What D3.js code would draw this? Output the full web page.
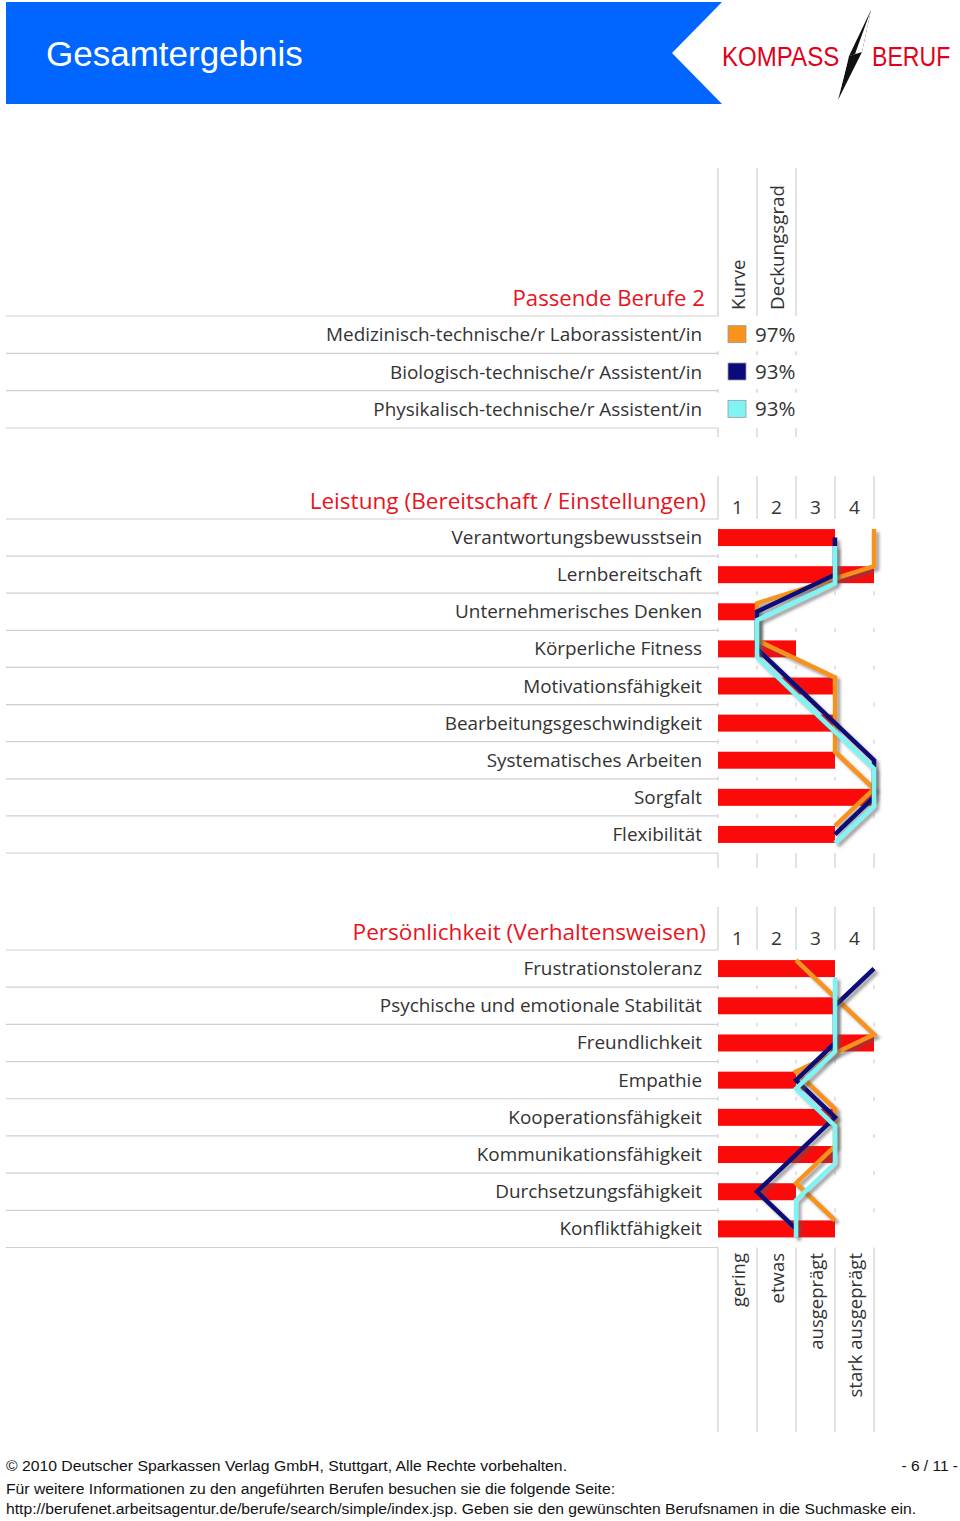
<!DOCTYPE html>
<html><head><meta charset="utf-8">
<script src="https://cdn.jsdelivr.net/npm/d3@7/dist/d3.min.js"></script>
<style>
html,body{margin:0;padding:0;background:#fff;}
svg{display:block;}
</style></head>
<body>
<script>
// ---------- DATA ----------
const pageTitle = "Gesamtergebnis";
const logoLeft = "KOMPASS";
const logoRight = "BERUF";

const legendTitle = "Passende Berufe 2";
const legendHeaders = ["Kurve", "Deckungsgrad"];
const jobs = [
  "Medizinisch-technische/r Laborassistent/in",
  "Biologisch-technische/r Assistent/in",
  "Physikalisch-technische/r Assistent/in"
];
const matchPercent = [97, 93, 93];

const levelTicks = ["1", "2", "3", "4"];
const levelLabels = ["gering", "etwas", "ausgeprägt", "stark ausgeprägt"];

const leistungTitle = "Leistung (Bereitschaft / Einstellungen)";
const leistungItems = [
  "Verantwortungsbewusstsein", "Lernbereitschaft", "Unternehmerisches Denken",
  "Körperliche Fitness", "Motivationsfähigkeit", "Bearbeitungsgeschwindigkeit",
  "Systematisches Arbeiten", "Sorgfalt", "Flexibilität"
];
const leistungBars   = [3, 4, 1, 2, 3, 3, 3, 4, 3];
const leistungJob1   = [4, 4, 1, 1, 3, 3, 3, 4, 3];
const leistungJob2   = [3, 3, 1, 1, 2, 3, 4, 4, 3];
const leistungJob3   = [3, 3, 1, 1, 2, 3, 4, 4, 3];

const persTitle = "Persönlichkeit (Verhaltensweisen)";
const persItems = [
  "Frustrationstoleranz", "Psychische und emotionale Stabilität", "Freundlichkeit",
  "Empathie", "Kooperationsfähigkeit", "Kommunikationsfähigkeit",
  "Durchsetzungsfähigkeit", "Konfliktfähigkeit"
];
const persBars = [3, 3, 4, 2, 3, 3, 2, 3];
const persJob1 = [2, 3, 4, 2, 3, 3, 2, 3];
const persJob2 = [4, 3, 3, 2, 3, 2, 1, 2];
const persJob3 = [3, 3, 3, 2, 3, 3, 2, 2];

const footer1 = "© 2010 Deutscher Sparkassen Verlag GmbH, Stuttgart, Alle Rechte vorbehalten.";
const footerPage = "- 6 / 11 -";
const footer2 = "Für weitere Informationen zu den angeführten Berufen besuchen sie die folgende Seite:";
const footer3 = "http://berufenet.arbeitsagentur.de/berufe/search/simple/index.jsp. Geben sie den gewünschten Berufsnamen in die Suchmaske ein.";

// ---------- STYLE ----------
const jobColors = ["#f7931e", "#0a0a7a", "#80f4f4"];
const jobOffsets = [-8.5, 0, 8.5];
const RED = "#e8141e";
const BAR = "#fb0a0a";
const GRID = "#cfcfcf";
const TXT = "#333";
const LABEL_FONT = "'Open Sans', 'Noto Sans', sans-serif";
const LABEL_SIZE = 18.9;
const TITLE_SIZE = 22.6;

const W = 960, H = 1521;
const svg = d3.select("body").append("svg").attr("width", W).attr("height", H);

const defs = svg.append("defs");
const f = defs.append("filter").attr("id", "shadow").attr("x", "-20%").attr("y", "-20%").attr("width", "140%").attr("height", "140%");
f.append("feDropShadow").attr("dx", 3).attr("dy", 3).attr("stdDeviation", 1.4)
  .attr("flood-color", "#555").attr("flood-opacity", 0.55);

// ---------- HEADER ----------
svg.append("path")
  .attr("d", "M6,2 L722,2 L672,53 L722,104 L6,104 Z")
  .attr("fill", "#0066ff");
svg.append("text").attr("x", 46).attr("y", 66)
  .attr("font-family", "'Liberation Sans', Arial, sans-serif").attr("font-size", 35)
  .attr("fill", "#fff").text(pageTitle);

svg.append("text").attr("transform", "translate(722,66) scale(0.86,1)")
  .attr("font-family", "'Liberation Sans', Arial, sans-serif").attr("font-size", 28)
  .attr("fill", "#e2001a").text(logoLeft);
svg.append("text").attr("transform", "translate(872,66) scale(0.84,1)")
  .attr("font-family", "'Liberation Sans', Arial, sans-serif").attr("font-size", 27.5)
  .attr("fill", "#e2001a").text(logoRight);
// compass needle
svg.append("path").attr("d", "M871,10 L862,52 L849,56 Z").attr("fill", "#111");
svg.append("path").attr("d", "M838,100 L849,56 L862,52 Z").attr("fill", "#111");
svg.append("path").attr("d", "M871,10 L862,52 L855,54 Z").attr("fill", "#fff");
svg.append("path").attr("d", "M838,100 L849,56 L844,72 Z").attr("fill", "#fff");

// ---------- SCALES ----------
const x = d3.scaleLinear().domain([0, 4]).range([718, 874]);
const gridXs = [0, 1, 2, 3, 4].map(v => x(v));

function hLine(g, y, x1, x2) {
  g.append("line").attr("x1", x1).attr("x2", x2).attr("y1", y).attr("y2", y)
    .attr("stroke", GRID).attr("stroke-width", 1.2);
}
function vLine(g, xx, y1, y2) {
  g.append("line").attr("x1", xx).attr("x2", xx).attr("y1", y1).attr("y2", y2)
    .attr("stroke", GRID).attr("stroke-width", 1.2);
}

// ---------- LEGEND SECTION ----------
(function () {
  const g = svg.append("g");
  const y = d3.scaleBand().domain(jobs).range([316, 428]);
  const cols = [0, 1, 2].map(v => x(v));
  cols.forEach(cx => vLine(g, cx, 168, 316));
  cols.forEach(cx => vLine(g, cx, 428, 437));
  jobs.forEach((j, i) => {
    hLine(g, y(j) + y.bandwidth(), 6, 718);
    if (i < jobs.length - 1) cols.forEach(cx => vLine(g, cx, y(j) + y.bandwidth() - 2, y(j) + y.bandwidth() + 2));
  });
  hLine(g, 316, 6, 718);
  g.append("text").attr("x", 705).attr("y", 306).attr("text-anchor", "end")
    .attr("font-family", LABEL_FONT).attr("font-size", 22.2).attr("fill", RED).text(legendTitle);
  legendHeaders.forEach((h, i) => {
    const cx = (cols[i] + cols[i + 1]) / 2;
    g.append("text").attr("transform", `translate(${cx + 7},310) rotate(-90)`)
      .attr("font-family", LABEL_FONT).attr("font-size", 18.8).attr("fill", TXT).text(h);
  });
  jobs.forEach((j, i) => {
    const cy = y(j) + y.bandwidth() / 2;
    g.append("text").attr("x", 702).attr("y", cy + 6.5).attr("text-anchor", "end")
      .attr("font-family", LABEL_FONT).attr("font-size", LABEL_SIZE).attr("fill", TXT).text(j);
    g.append("rect").attr("x", 728).attr("y", cy - 9).attr("width", 18).attr("height", 17)
      .attr("fill", jobColors[i]).attr("stroke", "#999").attr("stroke-width", 0.8);
    g.append("text").attr("x", 755).attr("y", cy + 7).attr("font-family", LABEL_FONT)
      .attr("font-size", 20.5).attr("fill", TXT).text(matchPercent[i] + "%");
  });
})();

// ---------- BAR SECTIONS ----------
function section(opt) {
  const g = svg.append("g");
  const y = d3.scaleBand().domain(opt.items).range([opt.top, opt.bottom]);
  const bh = 17;
  gridXs.forEach(gx => vLine(g, gx, opt.headerTop, opt.top));
  hLine(g, opt.top, 6, 718);
  opt.items.forEach((it, i) => {
    const yb = y(it) + y.bandwidth();
    hLine(g, yb, 6, 718);
    if (i < opt.items.length - 1) gridXs.forEach(gx => vLine(g, gx, yb - 2, yb + 2));
  });
  gridXs.forEach(gx => vLine(g, gx, opt.bottom, opt.tailEnd));

  g.append("text").attr("x", 706).attr("y", opt.titleY).attr("text-anchor", "end")
    .attr("font-family", LABEL_FONT).attr("font-size", TITLE_SIZE).attr("fill", RED).text(opt.title);
  levelTicks.forEach((t, i) => {
    g.append("text").attr("x", (x(i) + x(i + 1)) / 2).attr("y", opt.top - 5)
      .attr("text-anchor", "middle").attr("font-family", LABEL_FONT)
      .attr("font-size", 19).attr("fill", TXT).text(t);
  });
  opt.items.forEach(it => {
    g.append("text").attr("x", 702).attr("y", y(it) + y.bandwidth() / 2 + 6.5)
      .attr("text-anchor", "end").attr("font-family", LABEL_FONT)
      .attr("font-size", LABEL_SIZE).attr("fill", TXT).text(it);
  });
  g.selectAll("rect.bar").data(opt.bars).join("rect").attr("class", "bar")
    .attr("x", x(0)).attr("y", (d, i) => y(opt.items[i]) + (y.bandwidth() - bh) / 2)
    .attr("width", d => x(d) - x(0)).attr("height", bh).attr("fill", BAR);

  opt.series.forEach((s, k) => {
    const line = d3.line()
      .x(d => x(d))
      .y((d, i) => y(opt.items[i]) + y.bandwidth() / 2 + jobOffsets[k]);
    g.append("path").attr("d", line(s)).attr("fill", "none")
      .attr("stroke", jobColors[k]).attr("stroke-width", 4.5)
      .attr("stroke-linejoin", "miter").attr("filter", "url(#shadow)");
  });
  return g;
}

section({
  title: leistungTitle, titleY: 509, headerTop: 476, top: 519, bottom: 853, tailEnd: 868,
  items: leistungItems, bars: leistungBars, series: [leistungJob1, leistungJob2, leistungJob3]
});
const gp = section({
  title: persTitle, titleY: 940, headerTop: 907, top: 950, bottom: 1247.5, tailEnd: 1432,
  items: persItems, bars: persBars, series: [persJob1, persJob2, persJob3]
});
levelLabels.forEach((t, i) => {
  gp.append("text").attr("transform", `translate(${(x(i) + x(i + 1)) / 2 + 7},1253) rotate(-90)`)
    .attr("text-anchor", "end").attr("font-family", LABEL_FONT)
    .attr("font-size", 18.5).attr("fill", TXT).text(t);
});

// ---------- FOOTER ----------
const FF = "'Liberation Sans', Arial, sans-serif";
svg.append("text").attr("x", 6).attr("y", 1471).attr("font-family", FF).attr("font-size", 15.5)
  .attr("textLength", 561).attr("lengthAdjust", "spacingAndGlyphs").attr("fill", "#111").text(footer1);
svg.append("text").attr("x", 958).attr("y", 1471).attr("text-anchor", "end").attr("font-family", FF)
  .attr("font-size", 15.5).attr("fill", "#111").text(footerPage);
svg.append("text").attr("x", 6).attr("y", 1494).attr("font-family", FF).attr("font-size", 15.5)
  .attr("textLength", 609).attr("lengthAdjust", "spacingAndGlyphs").attr("fill", "#111").text(footer2);
svg.append("text").attr("x", 6).attr("y", 1514).attr("font-family", FF).attr("font-size", 15.5)
  .attr("textLength", 910).attr("lengthAdjust", "spacingAndGlyphs").attr("fill", "#111").text(footer3);
</script>
</body></html>
